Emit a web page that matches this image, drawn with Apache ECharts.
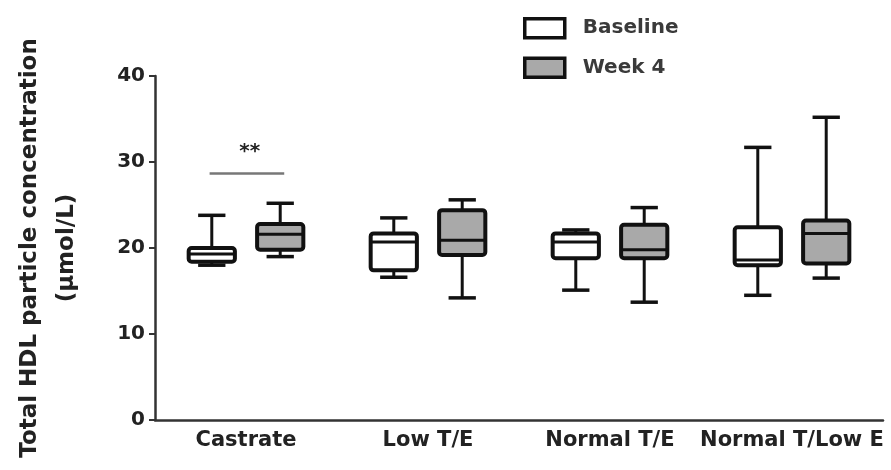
<!DOCTYPE html>
<html>
<head>
<meta charset="utf-8">
<script src="https://cdn.jsdelivr.net/npm/echarts@6/dist/echarts.min.js"></script>
<style>
  html, body { margin: 0; padding: 0; background: #fff; }
  #chart { width: 891px; height: 470px; }
</style>
</head>
<body>
<div id="chart"></div>
<script>
// Groups on the x axis
const groups = ['Castrate', 'Low T/E', 'Normal T/E', 'Normal T/Low E'];

// Box summaries per group: [min, Q1, median, Q3, max] in µmol/L
const baseline = [
  [18.0, 18.4, 19.3, 20.0, 23.8],
  [16.6, 17.4, 20.7, 21.7, 23.5],
  [15.1, 18.8, 20.7, 21.7, 22.1],
  [14.5, 18.0, 18.6, 22.4, 31.7]
];
const week4 = [
  [19.0, 19.8, 21.6, 22.8, 25.2],
  [14.2, 19.2, 20.9, 24.4, 25.6],
  [13.7, 18.8, 19.8, 22.7, 24.7],
  [16.5, 18.2, 21.7, 23.2, 35.2]
];

// Y axis ticks
const yMin = 0, yMax = 40, yStep = 10;

// Significance bracket between Castrate boxes: [group index, line value, label value]
const significance = [[0, 28.65, 31.2]];
const significanceLabel = '**';

const FONT = 'DejaVu Sans';
const INK = '#111';

function boxRenderer(fill, side) {
  return function (params, api) {
    const cat = api.value(0);
    const band = api.size([1, 0])[0];
    const offset = side * band * 0.188;
    const halfW = band * 0.127;
    const capHalf = band * 0.075;
    const pMin = api.coord([cat, api.value(1)]);
    const pQ1 = api.coord([cat, api.value(2)]);
    const pMed = api.coord([cat, api.value(3)]);
    const pQ3 = api.coord([cat, api.value(4)]);
    const pMax = api.coord([cat, api.value(5)]);
    const cx = pMin[0] + offset;
    const lineStyle = { stroke: INK, lineWidth: 3, lineCap: 'butt' };
    return {
      type: 'group',
      children: [
        { type: 'line', shape: { x1: cx, y1: pMax[1], x2: cx, y2: pQ3[1] }, style: lineStyle },
        { type: 'line', shape: { x1: cx, y1: pQ1[1], x2: cx, y2: pMin[1] }, style: lineStyle },
        { type: 'line', shape: { x1: cx - capHalf, y1: pMax[1], x2: cx + capHalf, y2: pMax[1] }, style: { stroke: INK, lineWidth: 3.5 } },
        { type: 'line', shape: { x1: cx - capHalf, y1: pMin[1], x2: cx + capHalf, y2: pMin[1] }, style: { stroke: INK, lineWidth: 3.5 } },
        {
          type: 'rect',
          shape: { x: cx - halfW, y: pQ3[1], width: halfW * 2, height: pQ1[1] - pQ3[1], r: 3 },
          style: { fill: fill, stroke: INK, lineWidth: 4 }
        },
        { type: 'line', shape: { x1: cx - halfW, y1: pMed[1], x2: cx + halfW, y2: pMed[1] }, style: { stroke: INK, lineWidth: 3 } }
      ]
    };
  };
}

function toRows(list) {
  return list.map((v, i) => [i].concat(v));
}

const chart = echarts.init(document.getElementById('chart'), null, { renderer: 'canvas' });

chart.setOption({
  animation: false,
  backgroundColor: '#fff',
  grid: { left: 155, right: 8, top: 76, bottom: 50, containLabel: false },
  legend: {
    orient: 'vertical',
    left: 518,
    top: 12,
    itemWidth: 40,
    itemHeight: 19,
    itemGap: 17,
    icon: 'rect',
    textStyle: { fontFamily: FONT, fontWeight: 'bold', fontSize: 20, color: '#3a3a3a', padding: [0, 0, 0, 13] },
    data: [
      { name: 'Baseline', itemStyle: { color: '#fff', borderColor: INK, borderWidth: 3.5 } },
      { name: 'Week 4', itemStyle: { color: '#a9a9a9', borderColor: INK, borderWidth: 3.5 } }
    ]
  },
  xAxis: {
    type: 'category',
    data: groups,
    axisLine: { lineStyle: { color: '#333', width: 2.5 } },
    axisTick: { alignWithLabel: true, length: 5, lineStyle: { color: '#333', width: 2 } },
    axisLabel: { fontFamily: FONT, fontWeight: 'bold', fontSize: 21, color: '#222', margin: 10, interval: 0 },
    splitLine: { show: false }
  },
  yAxis: {
    type: 'value',
    min: yMin,
    max: yMax,
    interval: yStep,
    name: 'Total HDL particle concentration\n(\u03bcmol/L)',
    nameLocation: 'middle',
    nameRotate: 90,
    nameGap: 69,
    nameTextStyle: { fontFamily: FONT, fontWeight: 'bold', fontSize: 23, color: '#222', lineHeight: 37 },
    axisLine: { show: true, lineStyle: { color: '#333', width: 2.5 } },
    axisTick: { show: true, length: 6, lineStyle: { color: '#333', width: 2 } },
    axisLabel: { fontFamily: FONT, fontWeight: 'bold', fontSize: 20, color: '#222', margin: 10 },
    splitLine: { show: false }
  },
  series: [
    {
      name: 'Baseline',
      type: 'custom',
      renderItem: boxRenderer('#fff', -1),
      encode: { x: 0, y: [1, 2, 3, 4, 5] },
      itemStyle: { color: '#fff', borderColor: INK },
      data: toRows(baseline),
      z: 3
    },
    {
      name: 'Week 4',
      type: 'custom',
      renderItem: boxRenderer('#a9a9a9', 1),
      encode: { x: 0, y: [1, 2, 3, 4, 5] },
      itemStyle: { color: '#a9a9a9', borderColor: INK },
      data: toRows(week4),
      z: 3
    },
    {
      name: 'significance',
      type: 'custom',
      silent: true,
      encode: { x: 0, y: [1, 2] },
      renderItem: function (params, api) {
        const cat = api.value(0);
        const band = api.size([1, 0])[0];
        const pLine = api.coord([cat, api.value(1)]);
        const pText = api.coord([cat, api.value(2)]);
        return {
          type: 'group',
          children: [
            {
              type: 'line',
              shape: { x1: pLine[0] - band * 0.2, y1: pLine[1], x2: pLine[0] + band * 0.21, y2: pLine[1] },
              style: { stroke: '#777', lineWidth: 2.5 }
            },
            {
              type: 'text',
              x: pText[0] + band * 0.02,
              y: pText[1],
              style: { text: significanceLabel, fontFamily: FONT, fontWeight: 'bold', fontSize: 20, fill: '#222', align: 'center', verticalAlign: 'middle' }
            }
          ]
        };
      },
      data: significance,
      z: 2
    }
  ]
});
</script>
</body>
</html>
